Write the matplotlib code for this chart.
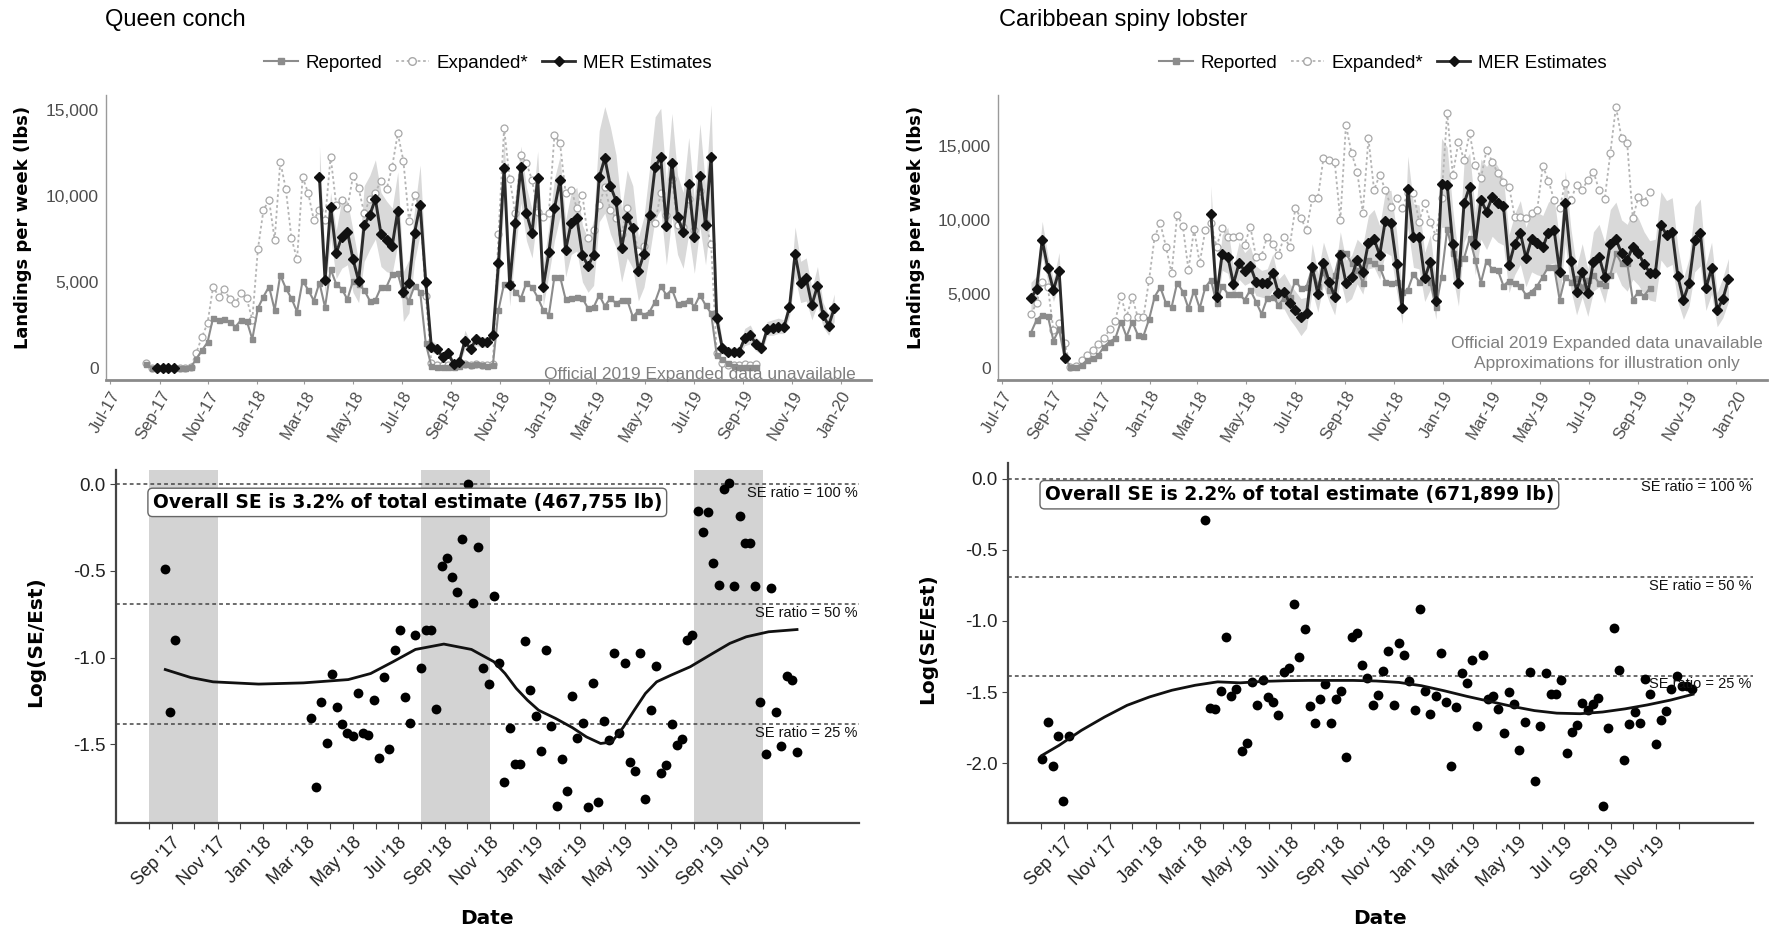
import numpy as np
import pandas as pd
import matplotlib
matplotlib.use("Agg")
import matplotlib.pyplot as plt
from matplotlib.lines import Line2D
from matplotlib.ticker import FuncFormatter, FixedLocator

plt.rcParams['font.family'] = ['Liberation Sans', 'DejaVu Sans']

# ---------------- Queen conch: weekly landings (lbs) ----------------
conch_start = "2017-08-15"
conch_reported = [230, 0, 0, 0, 0, 0, 0, 0, 30, 540,
                  1030, 1490, 2930, 2790, 2870, 2650, 2400, 2790, 2750, 1670,
                  3470, 4150, 4730, 3370, 5400, 4630, 4050, 3270, 5080, 4530,
                  3910, 4960, 3530, 5740, 4880, 4590, 3990, 5080, 4880, 4530,
                  3910, 3950, 4690, 4730, 5470, 5500, 4300, 3900, 4770, 4440,
                  1430, 120, 80, 80, 80, 80, 120, 230, 170, 230,
                  170, 120, 170, 3370, 4900, 4920, 4440, 4050, 4960, 4690,
                  4110, 3370, 3080, 5310, 5310, 3990, 4050, 4150, 4050, 3470,
                  3530, 4240, 3600, 4050, 3760, 3950, 3950, 2980, 3330, 3080,
                  3270, 3860, 4770, 4240, 4570, 3720, 3760, 3950, 3570, 4240,
                  3660, 3180, 760, 500, 270, 120, 80, 80, 80, 80]
conch_expanded = [300, 0, 0, 0, 0, 0, 0, 0, 30, 900,
                  1800, 2600, 4730, 4150, 4570, 3990, 3760, 4340, 4050, 2790,
                  6900, 9190, 9770, 7440, 12000, 10390, 7540, 6320, 11090, 10160,
                  8600, 9200, 8600, 12290, 9480, 9770, 9300, 11160, 10450, 9000,
                  9800, 10200, 10890, 10390, 11700, 13640, 12050, 8570, 10060, 9400,
                  4200, 300, 150, 150, 150, 200, 200, 250, 200, 250,
                  200, 200, 250, 7800, 13930, 11000, 9000, 12400, 11900, 10930,
                  9090, 8800, 9000, 13550, 13060, 10150, 10350, 9300, 10060, 7540,
                  8020, 9500, 10500, 9200, 8700, 7800, 9280, 8200, 6800, 7100,
                  8700, 8410, 10200, 8900, 11000, 8300, 8200, 9800, 8000, 10300,
                  8400, 7200, 850, 300, 200, 150, 150, 250, 200, 250]
conch_mer_a_start = "2017-08-29"
conch_mer_a = [0, 0, 0, 0]
conch_mer_b_start = "2018-03-20"
conch_mer_b = [11090, 5120, 9380, 6670, 7640, 7930, 6320, 5080, 8310, 8900,
               9810, 7790, 7440, 7090, 9150, 4440, 4960, 7870, 9480, 5000,
               1240, 1090, 660, 850, 230, 370, 1590, 1090, 1670, 1530,
               1530, 1920, 6090, 11610, 4830, 8410, 11670, 8990, 7830, 11030,
               4730, 6720, 9280, 10930, 6860, 8450, 8740, 6570, 5930, 6570,
               11090, 12190, 10580, 9730, 6960, 8760, 8120, 5640, 6630, 8900,
               11710, 12250, 8260, 11940, 8760, 7930, 10700, 7600, 11160, 8310,
               12290, 2890, 1140, 950, 950, 950, 1720, 1920, 1400, 1140,
               2250, 2310, 2400, 2360, 3530, 6630, 4920, 5210, 3660, 4770,
               3080, 2460, 3470]
conch_mer_b_lo = [9800, 4300, 7600, 5200, 5800, 6000, 4400, 3800, 6200, 6900,
                  7500, 5900, 5600, 5500, 7200, 2700, 3200, 6200, 7800, 4200,
                  900, 800, 400, 600, 100, 200, 1100, 800, 1300, 1200,
                  1200, 1600, 4600, 9700, 3600, 6800, 9600, 7400, 6400, 9000,
                  3600, 5400, 7400, 8800, 5300, 6600, 6800, 5000, 4400, 4800,
                  8500, 9000, 7800, 7000, 5000, 6400, 5800, 3900, 4700, 6600,
                  8700, 9200, 6000, 8800, 6600, 5800, 7800, 5500, 8200, 6000,
                  9000, 2100, 800, 700, 700, 700, 1300, 1400, 1000, 800,
                  1900, 1900, 2000, 2000, 3000, 5300, 3800, 3900, 2800, 3700,
                  2400, 1900, 2700]
conch_mer_b_hi = [12900, 6400, 10200, 8000, 9800, 9700, 8000, 6200, 10600, 11200,
                  12100, 10200, 9700, 9300, 11400, 5600, 6300, 9200, 11800, 6000,
                  1600, 1400, 900, 1100, 400, 600, 2200, 1500, 2000, 1800,
                  1800, 2300, 7500, 13500, 6200, 10000, 12900, 10500, 9200, 12600,
                  6000, 8200, 11000, 12300, 8600, 10200, 10500, 8300, 7500, 8600,
                  13800, 15200, 14000, 12400, 9200, 11500, 10600, 7600, 8800, 11600,
                  14600, 15100, 10800, 14800, 11200, 10200, 13400, 9800, 14200, 10600,
                  15300, 3800, 1500, 1200, 1200, 1200, 2300, 2500, 1800, 1500,
                  2700, 2800, 2900, 2800, 4100, 8200, 6200, 6400, 4600, 5900,
                  3800, 3100, 4300]

# ---------------- Caribbean spiny lobster: weekly landings (lbs) ----------------
lob_start = "2017-08-06"
lob_reported = [2400, 3260, 3600, 3530, 1860, 2630, 700, 110, 110, 220,
                560, 670, 900, 1460, 1800, 2020, 3150, 2130, 3150, 2250,
                2180, 3300, 4830, 5460, 4380, 4110, 5770, 5170, 4040, 5240,
                4040, 5460, 5950, 4380, 5550, 5010, 5010, 5010, 4610, 5280,
                4490, 3660, 4720, 4830, 4270, 4720, 4830, 5910, 5390, 5500,
                6740, 5550, 6520, 5280, 6290, 7860, 7750, 7080, 6630, 5770,
                7300, 7080, 6850, 5840, 5730, 5840, 5170, 5280, 6360, 5840,
                6180, 5840, 4110, 6180, 9370, 7800, 7120, 7420, 8760, 7300,
                5770, 7260, 6670, 6630, 5550, 5910, 5730, 5550, 4940, 5170,
                5550, 6180, 6850, 6850, 4610, 6180, 5840, 6070, 5500, 5950,
                6290, 5730, 5620, 6290, 7750, 7080, 7080, 4610, 5170, 4880,
                5390]
lob_expanded = [3660, 4380, 5840, 5500, 2580, 3030, 1690, 120, 150, 560,
                900, 1240, 1640, 2020, 2630, 3210, 4880, 3480, 4790, 3440,
                3440, 5950, 8880, 9770, 8200, 6400, 10340, 9590, 6630, 9370,
                7080, 9330, 9800, 8200, 9440, 8880, 8880, 8930, 8320, 9550,
                7530, 7600, 8880, 8380, 7640, 8880, 8200, 10790, 10110, 9330,
                11460, 11460, 14160, 14040, 13930, 10000, 16400, 14490, 13260, 10490,
                15500, 12020, 13030, 12020, 10900, 11460, 10790, 11800, 11840, 9890,
                11120, 9890, 8880, 11500, 17230, 13030, 15280, 14040, 15840, 13710,
                12810, 14720, 13930, 13140, 12580, 12250, 10220, 10220, 10110, 10450,
                10670, 13640, 12650, 11350, 10790, 12520, 11350, 12360, 12020, 12700,
                13260, 12020, 11390, 14490, 17640, 15500, 15170, 10110, 11570, 11240,
                11910]
lob_mer_a_start = "2017-08-06"
lob_mer_a = [4720, 5330, 8650, 6740, 5280, 6580, 670]
lob_mer_a_lo = [3800, 4400, 7600, 5800, 4500, 5700, 400]
lob_mer_a_hi = [5800, 6200, 9900, 7600, 6000, 7800, 900]
lob_mer_b_start = "2018-03-18"
lob_mer_b = [10400, 4830, 7710, 7530, 5690, 7080, 6580, 6900, 5840, 5770,
             5730, 6450, 5060, 5170, 4380, 3930, 3440, 3710, 6850, 5010,
             7120, 5840, 4830, 7640, 5770, 6130, 7300, 6520, 8470, 8700,
             7640, 9950, 9770, 7030, 4040, 12070, 8880, 8880, 6070, 7190,
             4560, 12430, 12360, 8380, 5770, 11120, 12250, 8380, 11350, 10560,
             11530, 11120, 10940, 6970, 8380, 9150, 7420, 8700, 8430, 8160,
             9150, 9330, 6520, 11120, 7260, 5170, 6520, 5060, 7190, 7530,
             6180, 8380, 8700, 7750, 7300, 8200, 7750, 7030, 6450, 6400,
             9660, 8990, 9210, 6220, 4610, 5730, 8650, 9150, 5390, 6740,
             3930, 4650, 6000]
lob_mer_b_lo = [8500, 4000, 6600, 6400, 4800, 6000, 5600, 5800, 4900, 4800,
                4700, 5300, 4000, 4000, 3300, 2800, 2200, 2700, 5200, 3800,
                5600, 4500, 3600, 6000, 4400, 4700, 5700, 5000, 6700, 6800,
                6000, 7800, 7600, 5200, 3000, 9500, 6800, 6700, 4500, 5300,
                3300, 9500, 9500, 6200, 4200, 8500, 9400, 6300, 8700, 8000,
                8900, 8500, 8300, 5100, 6300, 7000, 5500, 6500, 6300, 6200,
                7000, 7100, 4700, 8400, 5300, 3600, 4800, 3500, 5200, 5500,
                4400, 6200, 6500, 5600, 5200, 6000, 5600, 5000, 4600, 4500,
                7300, 6800, 7000, 4500, 3300, 4200, 6500, 6900, 3900, 5000,
                2800, 3400, 4500]
lob_mer_b_hi = [12300, 5700, 9000, 9500, 6800, 8500, 7800, 8200, 6900, 6600,
                6700, 7700, 6000, 6400, 5700, 5200, 4700, 4800, 8400, 6400,
                8500, 7300, 6200, 9200, 7300, 7600, 8700, 8300, 10300, 10700,
                9600, 11900, 12000, 9200, 5200, 14300, 11100, 11000, 7800, 9000,
                5800, 15500, 14900, 10700, 7500, 13900, 14500, 10500, 14100, 13600,
                14200, 13600, 12800, 9000, 10400, 11300, 9500, 10600, 10500, 10300,
                11200, 11500, 8600, 13300, 9400, 6800, 8400, 6700, 9200, 9700,
                8500, 10700, 11200, 10000, 9700, 10600, 10100, 9200, 8600, 8700,
                11900, 11300, 11500, 8200, 6100, 7400, 10900, 11400, 7000, 8500,
                5100, 6100, 7400]

# ---------------- Log(SE/Est) per week ----------------
conch_se_a_start = "2017-08-22"
conch_se_a = [-0.489, -1.313, -0.899]
conch_se_b_start = "2018-03-06"
conch_se_b = [-1.348, -1.747, -1.259, -1.492, -1.096, -1.288, -1.383, -1.435, -1.454, -1.202,
              -1.435, -1.448, -1.246, -1.577, -1.111, -1.525, -0.957, -0.842, -1.227, -1.377,
              -0.870, -1.063, -0.838, -0.842, -1.294, -0.472, -0.427, -0.537, -0.624, -0.318,
              0.0, -0.687, -0.360, -1.063, -1.153, -0.645, -1.034, -1.718, -1.404, -1.616,
              -1.616, -0.905, -1.188, -1.338, -1.539, -0.957, -1.394, -1.858, -1.583, -1.770,
              -1.223, -1.467, -1.377, -1.862, -1.146, -1.835, -1.367, -1.473, -0.972, -1.435,
              -1.034, -1.602, -1.654, -0.976, -1.814, -1.300, -1.048, -1.664, -1.621, -1.381,
              -1.506, -1.471, -0.899, -0.870, -0.152, -0.277, -0.158, -0.456, -0.582, -0.029,
              0.006, -0.587, -0.183, -0.337, -0.337, -0.587, -1.256, -1.554, -0.601, -1.313,
              -1.512, -1.107, -1.127, -1.544]
conch_smooth_dates = ["2017-08-23", "2017-09-26", "2017-10-26", "2017-12-26", "2018-02-24",
                      "2018-04-25", "2018-05-25", "2018-06-24", "2018-07-24", "2018-08-31",
                      "2018-10-07", "2018-11-06", "2018-11-21", "2018-12-06", "2018-12-21",
                      "2019-01-05", "2019-01-28", "2019-02-19", "2019-03-10", "2019-03-29",
                      "2019-04-13", "2019-04-28", "2019-05-13", "2019-05-28", "2019-06-12",
                      "2019-07-01", "2019-07-27", "2019-08-26", "2019-09-18", "2019-10-10",
                      "2019-11-09", "2019-12-17"]
conch_smooth = [-1.069, -1.115, -1.140, -1.153, -1.146,
                -1.127, -1.092, -1.024, -0.953, -0.922,
                -0.953, -1.024, -1.092, -1.178, -1.246,
                -1.304, -1.352, -1.404, -1.458, -1.496,
                -1.487, -1.404, -1.304, -1.207, -1.140,
                -1.102, -1.053, -0.976, -0.918, -0.880,
                -0.851, -0.838]

lob_se_a_start = "2017-08-03"
lob_se_a = [-1.969, -1.711, -2.016, -1.812, -2.268, -1.812]
lob_se_b_start = "2018-03-08"
lob_se_b = [-0.292, -1.609, -1.616, -1.492, -1.115, -1.529, -1.475, -1.915, -1.859, -1.428,
            -1.588, -1.412, -1.534, -1.569, -1.659, -1.362, -1.334, -0.882, -1.252, -1.054,
            -1.600, -1.718, -1.546, -1.445, -1.718, -1.546, -1.492, -1.958, -1.111, -1.082,
            -1.311, -1.398, -1.593, -1.522, -1.351, -1.209, -1.593, -1.153, -1.240, -1.421,
            -1.628, -0.918, -1.492, -1.656, -1.529, -1.228, -1.569, -2.016, -1.605, -1.365,
            -1.433, -1.271, -1.741, -1.240, -1.546, -1.529, -1.616, -1.788, -1.499, -1.586,
            -1.906, -1.711, -1.358, -2.122, -1.741, -1.365, -1.515, -1.515, -1.412, -1.929,
            -1.781, -1.734, -1.576, -1.624, -1.581, -1.539, -2.299, -1.751, -1.052, -1.346,
            -1.976, -1.722, -1.640, -1.718, -1.405, -1.511, -1.864, -1.699, -1.633, -1.475,
            -1.386, -1.459, -1.459, -1.475]
lob_smooth_dates = ["2017-08-02", "2017-08-25", "2017-09-24", "2017-10-25", "2017-11-24",
                    "2017-12-24", "2018-01-23", "2018-02-23", "2018-03-25", "2018-04-24",
                    "2018-05-24", "2018-06-24", "2018-07-24", "2018-08-23", "2018-09-22",
                    "2018-10-23", "2018-11-22", "2018-12-22", "2019-01-21", "2019-02-21",
                    "2019-03-23", "2019-04-22", "2019-05-22", "2019-06-21", "2019-07-22",
                    "2019-08-21", "2019-09-20", "2019-10-20", "2019-11-20", "2019-12-20"]
lob_smooth = [-1.946, -1.875, -1.769, -1.675, -1.593,
              -1.534, -1.487, -1.452, -1.428, -1.435,
              -1.425, -1.420, -1.418, -1.418, -1.418,
              -1.422, -1.432, -1.455, -1.490, -1.530,
              -1.565, -1.600, -1.630, -1.648, -1.652,
              -1.640, -1.618, -1.590, -1.556, -1.515]

# conch closed season shading (lobster panel has none)
closed_seasons = [("2017-08-01", "2017-11-01"), ("2018-08-01", "2018-11-01"),
                  ("2019-08-01", "2019-11-01")]
se_ratios = [1.0, 0.5, 0.25]
se_labels = ["SE ratio = 100 %", "SE ratio = 50 %", "SE ratio = 25 %"]

W, H = 1774, 931
fig = plt.figure(figsize=(W / 100, H / 100), dpi=100)


def box(l, t, r, b):
    return [l / W, 1 - b / H, (r - l) / W, (b - t) / H]


def weeks(start, vals):
    return pd.date_range(start, periods=len(vals), freq="7D")


REP_C = "#8c8c8c"
EXP_C = "#b4b4b4"
MER_C = "#2b2b2b"
RIB_C = "#d9d9d9"


def top_panel(ax, start, rep, exp, mer_parts, ylim):
    for st, v, lo, hi in mer_parts:
        if lo is not None:
            ax.fill_between(weeks(st, v), lo, hi, color=RIB_C, lw=0, zorder=1)
    ax.plot(weeks(start, exp), exp, color=EXP_C, ls=(0, (1.5, 1.5)), lw=1.3,
            marker="o", ms=5, mfc="white", mec="#a8a8a8", mew=0.9, zorder=2)
    ax.plot(weeks(start, rep), rep, color=REP_C, lw=1.5, marker="s", ms=3.6,
            mec=REP_C, zorder=3)
    for st, v, lo, hi in mer_parts:
        ax.plot(weeks(st, v), v, color=MER_C, lw=2.1, marker="D", ms=4.6,
                mfc="#111111", mec="#111111", zorder=4)
    ax.set_xlim(pd.Timestamp("2017-06-26"), pd.Timestamp("2020-02-08"))
    ax.set_ylim(*ylim)
    ax.set_yticks([0, 5000, 10000, 15000])
    ax.yaxis.set_major_formatter(FuncFormatter(lambda v, p: f"{int(v):,}"))
    xt = pd.date_range("2017-07-01", "2020-01-01", freq="2MS")
    ax.set_xticks(xt)
    ax.set_xticklabels([d.strftime("%b-%y") for d in xt], rotation=60,
                       ha="right", rotation_mode="anchor")
    for s in ["top", "right"]:
        ax.spines[s].set_visible(False)
    ax.spines["left"].set_color("#9a9a9a")
    ax.spines["left"].set_linewidth(1.0)
    ax.spines["bottom"].set_color("#8a8a8a")
    ax.spines["bottom"].set_linewidth(2.0)
    ax.tick_params(axis="y", length=0, pad=5, labelsize=12.5, labelcolor="#4d4d4d")
    ax.tick_params(axis="x", length=3, color="#9a9a9a", pad=3, labelsize=12,
                   labelcolor="#4d4d4d")


def bottom_panel(ax, parts, sm_d, sm_v, ylim, yticks, note, note_y, bands):
    for b0, b1 in bands:
        ax.axvspan(pd.Timestamp(b0), pd.Timestamp(b1), color="#d3d3d3", lw=0, zorder=0)
    for r, lab in zip(se_ratios, se_labels):
        y = np.log(r)
        ax.axhline(y, color="#444444", lw=1.1, ls=(0, (2.5, 2)), zorder=1)
        ax.annotate(lab, xy=(1, y), xycoords=("axes fraction", "data"),
                    xytext=(-1, -6), textcoords="offset points", ha="right",
                    va="center", fontsize=10.5, color="#111111", zorder=5)
    for st, v in parts:
        ax.scatter(weeks(st, v), v, s=50, color="black", lw=0, zorder=3)
    ax.plot(pd.to_datetime(sm_d), sm_v, color="#111111", lw=2, zorder=4)
    ax.text(pd.Timestamp("2017-08-06"), note_y, note, ha="left", va="center",
            fontsize=13.5, fontweight="bold", family="DejaVu Sans", zorder=6,
            bbox=dict(boxstyle="round,pad=0.25", fc="white", ec="#666666", lw=1))
    ax.set_xlim(pd.Timestamp("2017-06-18"), pd.Timestamp("2020-03-09"))
    ax.set_ylim(*ylim)
    ax.set_yticks(yticks)
    ax.set_yticklabels([f"{t:.1f}" for t in yticks])
    xt = pd.date_range("2017-08-01", "2019-12-01", freq="MS")
    ax.xaxis.set_major_locator(FixedLocator([matplotlib.dates.date2num(d) for d in xt]))
    ax.set_xticklabels([d.strftime("%b '%y") if d.month % 2 == 1 else "" for d in xt],
                       rotation=45, ha="right", rotation_mode="anchor")
    for s in ["top", "right"]:
        ax.spines[s].set_visible(False)
    for s in ["left", "bottom"]:
        ax.spines[s].set_color("#444444")
        ax.spines[s].set_linewidth(1.6)
    ax.tick_params(axis="both", length=4, color="#444444", labelsize=13.5,
                   labelcolor="#222222")
    ax.tick_params(axis="x", labelsize=13, pad=4)


# ---- top row ----
ax1 = fig.add_axes(box(106, 95, 871, 380))
top_panel(ax1, conch_start, conch_reported, conch_expanded,
          [(conch_mer_a_start, conch_mer_a, None, None),
           (conch_mer_b_start, conch_mer_b, conch_mer_b_lo, conch_mer_b_hi)],
          (-698, 15870))
ax1.text(0.98, 0.018, "Official 2019 Expanded data unavailable", transform=ax1.transAxes,
         ha="right", va="center", fontsize=12.5, color="#7f7f7f")

ax2 = fig.add_axes(box(998, 95, 1767, 380))
top_panel(ax2, lob_start, lob_reported, lob_expanded,
          [(lob_mer_a_start, lob_mer_a, lob_mer_a_lo, lob_mer_a_hi),
           (lob_mer_b_start, lob_mer_b, lob_mer_b_lo, lob_mer_b_hi)],
          (-788, 18417))
ax2.text(0.792, 0.093, "Official 2019 Expanded data unavailable\nApproximations for illustration only",
         transform=ax2.transAxes, ha="center", va="center", fontsize=12.5,
         color="#7f7f7f", linespacing=1.35)

handles = [Line2D([], [], color=REP_C, lw=1.5, marker="s", ms=4, mec=REP_C),
           Line2D([], [], color=EXP_C, ls=(0, (1.5, 1.5)), lw=1.3, marker="o", ms=5.5,
                  mfc="white", mec="#a8a8a8"),
           Line2D([], [], color=MER_C, lw=2, marker="D", ms=5, mfc="#111111", mec="#111111")]
labels = ["Reported", "Expanded*", "MER Estimates"]
for cx in (488, 1383):
    fig.legend(handles, labels, loc="center", bbox_to_anchor=(cx / W, 1 - 63 / H),
               ncol=3, frameon=False, fontsize=13.5, handlelength=1.8,
               handletextpad=0.4, columnspacing=0.7)

fig.text(105 / W, 1 - 20 / H, "Queen conch", fontsize=17, va="center", ha="left")
fig.text(999 / W, 1 - 20 / H, "Caribbean spiny lobster", fontsize=17, va="center", ha="left")
for x in (23, 916):
    fig.text(x / W, 1 - 227 / H, "Landings per week (lbs)", rotation=90, ha="center",
             va="center", fontsize=13, fontweight="bold", family="DejaVu Sans")

# ---- bottom row ----
ax3 = fig.add_axes(box(116, 470, 859, 823))
bottom_panel(ax3, [(conch_se_a_start, conch_se_a), (conch_se_b_start, conch_se_b)],
             conch_smooth_dates, conch_smooth, (-1.955, 0.083), [0.0, -0.5, -1.0, -1.5],
             "Overall SE is 3.2% of total estimate (467,755 lb)", -0.104, closed_seasons)

ax4 = fig.add_axes(box(1008, 463, 1753, 823))
bottom_panel(ax4, [(lob_se_a_start, lob_se_a), (lob_se_b_start, lob_se_b)],
             lob_smooth_dates, lob_smooth, (-2.42, 0.11), [0.0, -0.5, -1.0, -1.5, -2.0],
             "Overall SE is 2.2% of total estimate (671,899 lb)", -0.113, [])

fig.text(36 / W, 1 - 642 / H, "Log(SE/Est)", rotation=90, ha="center", va="center",
         fontsize=14.5, fontweight="bold", family="DejaVu Sans")
fig.text(928 / W, 1 - 639 / H, "Log(SE/Est)", rotation=90, ha="center", va="center",
         fontsize=14.5, fontweight="bold", family="DejaVu Sans")
fig.text(487 / W, 1 - 918 / H, "Date", ha="center", va="center", fontsize=14.5,
         fontweight="bold", family="DejaVu Sans")
fig.text(1380 / W, 1 - 918 / H, "Date", ha="center", va="center", fontsize=14.5,
         fontweight="bold", family="DejaVu Sans")

fig.savefig("out.png", dpi=100, facecolor="white")
